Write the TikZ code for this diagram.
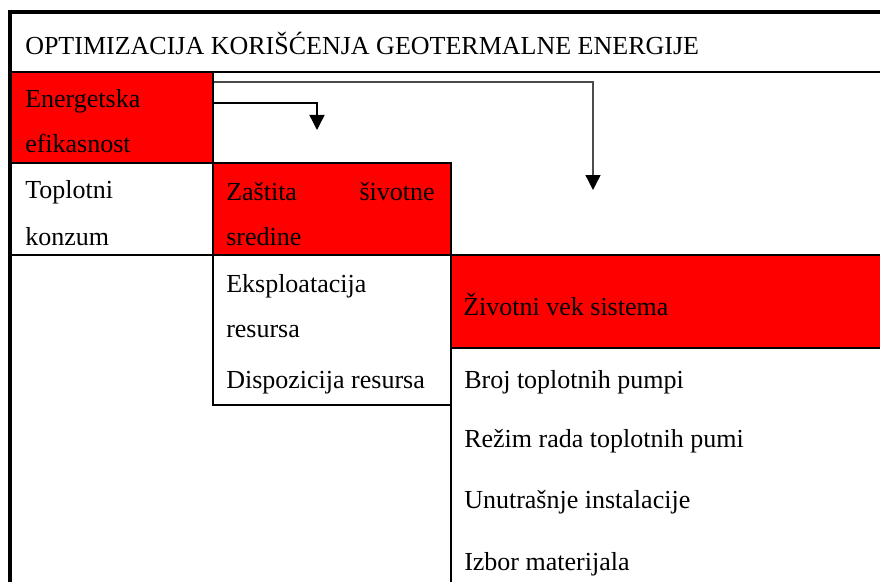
\documentclass[tikz,border=0pt]{standalone}
\usepackage{fontspec}
\setmainfont{Liberation Serif}
\usetikzlibrary{arrows.meta}
\definecolor{cellred}{RGB}{255,0,0}
\begin{document}
\begin{tikzpicture}[x=0.75pt,y=-0.75pt,
  cell/.style={rectangle, draw=black, line width=1.7pt, inner sep=0pt, anchor=north west},
  redcell/.style={cell, fill=cellred},
  whitecell/.style={cell, fill=white},
  frame/.style={line width=3pt, draw=black},
  txt/.style={font=\fontsize{19.5}{23}\selectfont, inner sep=0pt, anchor=base west},
  link/.style={line width=1pt, -{Triangle[length=11.25pt,width=11.25pt,color=black]}}]
\useasboundingbox (0,0) rectangle (880,581);
\clip (0,0) rectangle (880,581);
% cells
\node[whitecell, minimum width=660pt, minimum height=44.25pt] (title) at (10,12) {};
\node[redcell, minimum width=151.5pt, minimum height=68.25pt] (en) at (10,71) {};
\node[whitecell, minimum width=151.5pt, minimum height=69pt] (tk) at (10,162) {};
\node[redcell, minimum width=178.5pt, minimum height=69pt] (zs) at (212,162) {};
\node[whitecell, minimum width=178.5pt, minimum height=112.5pt] (ek) at (212,254) {};
\node[redcell, minimum width=330pt, minimum height=69.75pt] (zv) at (450,254) {};
\node[whitecell, minimum width=330pt, minimum height=189.75pt] (low) at (450,347) {};
% outer frame
\coordinate (fbot) at (10,600);
\draw[frame] ([xshift=-1.5pt]title.north west) -- (title.north east);
\draw[frame] ([yshift=1.5pt]title.north west) -- (title.north west |- fbot);
% texts
\node[txt] (t0) at (25,55) {OPTIMIZACIJA KORIŠĆENJA GEOTERMALNE ENERGIJE};
\node[txt] (t1) at (25,108) {Energetska};
\node[txt] (t2) at (25,152) {efikasnost};
\node[txt] (t3) at (25,198) {Toplotni};
\node[txt] (t4) at (25,245) {konzum};
\node[txt] (t5) at (226,200) {Zaštita};
\node[txt, anchor=base east] (t6) at (435,200) {šivotne};
\node[txt] (t7) at (226,245) {sredine};
\node[txt] (t8) at (226,292) {Eksploatacija};
\node[txt] (t9) at (226,337) {resursa};
\node[txt] (t10) at (226,388) {Dispozicija resursa};
\node[txt] (t11) at (463,315) {Životni vek sistema};
\node[txt] (t12) at (464,388) {Broj toplotnih pumpi};
\node[txt] (t13) at (464,447) {Režim rada toplotnih pumi};
\node[txt] (t14) at (464,508) {Unutrašnje instalacije};
\node[txt] (t15) at (464,570) {Izbor materijala};
% arrows
\coordinate (h1) at (317,103);
\coordinate (e1) at (317,130);
\coordinate (h2) at (593,82);
\coordinate (e2) at (593,190);
\draw[link] (h1 -| en.east) -- (h1) -- (e1);
\draw[link, draw=black!70] (h2 -| en.east) -- (h2) -- (e2);
\end{tikzpicture}
\end{document}
